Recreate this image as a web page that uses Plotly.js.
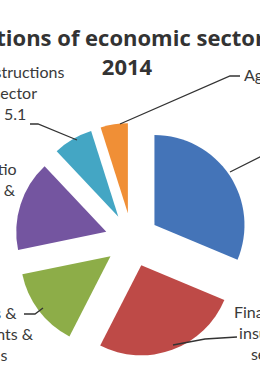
<!DOCTYPE html>
<html>
<head>
<meta charset="utf-8">
<script src="https://cdn.plot.ly/plotly-3.0.1.min.js"></script>
<style>
  html, body { margin: 0; padding: 0; background: #ffffff; overflow: hidden; width: 260px; height: 385px; }
  #chart { position: absolute; left: -200px; top: 0; width: 660px; height: 385px; }
</style>
</head>
<body>
<div id="chart"></div>
<script>
// ---- data ----
const sectors = ['Industry', 'Financial & insurance', 'Trades, restaurants & hotels',
                 'Transportation & storage', 'Constructions sector', 'Agriculture'];
const values = [22.4, 18.8, 10.2, 11.6, 5.1, 3.5];
const labelText = ['Industry<br>sector', 'Financial &<br>insurance<br>sector',
                   'Trades &<br>restaurants &<br>hotels', 'Transportatio<br>n & comm. &<br>storage',
                   'Constructions<br>sector<br>5.1', 'Agriculture'];
const colors = ['#4474B8', '#BE4A47', '#8DAD48', '#7455A0', '#44A6C4', '#F08F36'];
const titleText = 'Contributions of economic sectors in GDP<br>2014';

// ---- layout helpers (page pixels -> paper coords) ----
const W = 660, H = 385, OFF = 200;
const px = X => (X + OFF) / W;
const py = Y => 1 - Y / H;

const pieCx = 132, pieCy = 240, pieHalf = 117;

// label placements in page pixels
const labelPos = [
  {x: 300, y: 150, anchor: 'center'},
  {x: 273, y: 332, anchor: 'center'},
  {x: -14, y: 333, anchor: 'center'},
  {x: -30, y: 190, anchor: 'center'},
  {x: 15,  y: 93,  anchor: 'center'},
  {x: 242, y: 74,  anchor: 'left'}
];
const leaders = [
  [[230,172],[270,152],[282,152]],
  [[237,337],[205,339],[173,345]],
  [[24,314],[35,314],[43,308]],
  null,
  [[30,124],[38,124],[77,140]],
  [[240,76],[230,76],[120,124]]
];

const annotations = labelText.map((t, i) => ({
  text: t, xref: 'paper', yref: 'paper',
  x: px(labelPos[i].x), y: py(labelPos[i].y),
  xanchor: labelPos[i].anchor, yanchor: 'middle', align: 'center',
  showarrow: false,
  font: {family: 'Lato, "Open Sans", sans-serif', size: 16, color: '#3a3a3a'}
}));

const shapes = leaders.filter(l => l).map(pts => ({
  type: 'path', xref: 'paper', yref: 'paper',
  path: pts.map((p, k) => (k ? 'L' : 'M') + px(p[0]) + ',' + py(p[1])).join(' '),
  line: {color: '#333333', width: 1.3}
}));

const trace = {
  type: 'pie',
  labels: sectors,
  values: values,
  sort: false,
  direction: 'clockwise',
  rotation: 0,
  pull: values.map(() => 0.3),
  marker: {colors: colors, line: {width: 0}},
  textinfo: 'none',
  hoverinfo: 'label+value',
  showlegend: false,
  domain: {
    x: [px(pieCx - pieHalf), px(pieCx + pieHalf)],
    y: [py(pieCy + pieHalf), py(pieCy - pieHalf)]
  }
};

const layout = {
  width: W, height: H,
  margin: {l: 0, r: 0, t: 0, b: 0},
  paper_bgcolor: '#ffffff',
  showlegend: false,
  title: {
    text: titleText,
    x: px(127), xref: 'paper', xanchor: 'center',
    y: py(46), yref: 'paper', yanchor: 'top',
    font: {family: '"Open Sans", sans-serif', size: 22, color: '#333333', weight: 'bold'}
  },
  annotations: annotations,
  shapes: shapes
};

Plotly.newPlot('chart', [trace], layout, {displayModeBar: false, staticPlot: true});
</script>
</body>
</html>
